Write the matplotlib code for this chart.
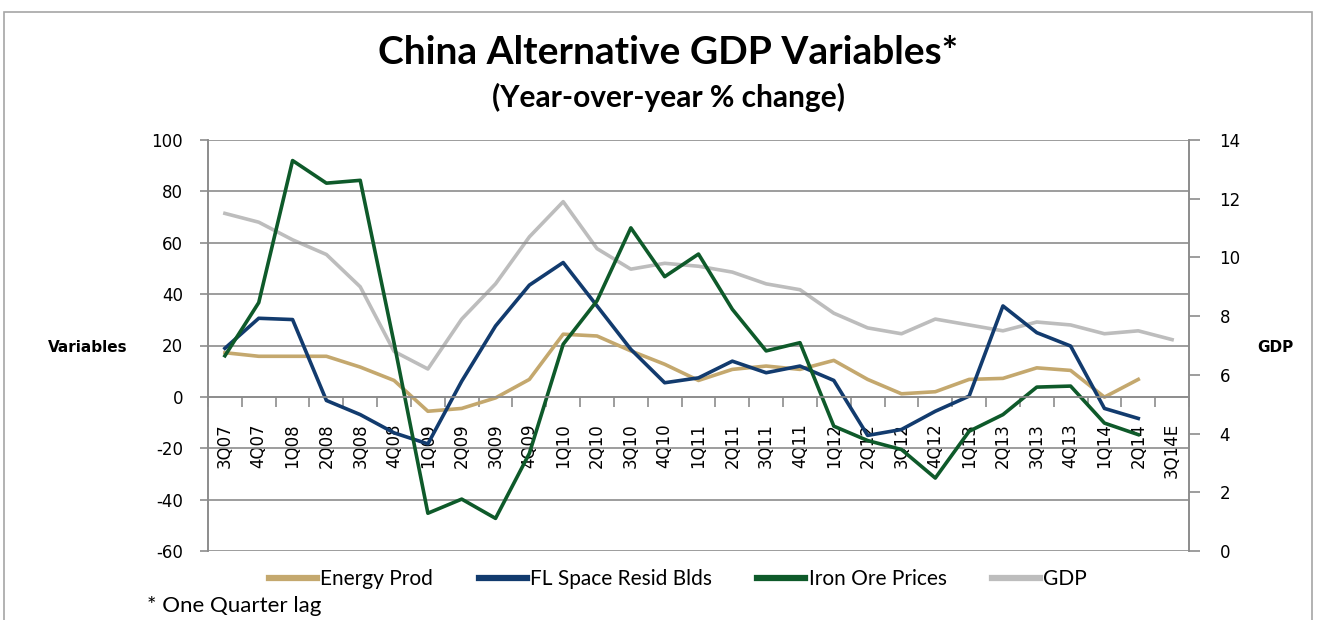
import numpy as np
import matplotlib
matplotlib.use("Agg")
import matplotlib.pyplot as plt
from matplotlib.patches import Rectangle

plt.rcParams["axes.unicode_minus"] = False

# categorias (trimestres)
quarters = ["3Q07", "4Q07", "1Q08", "2Q08", "3Q08", "4Q08", "1Q09", "2Q09", "3Q09", "4Q09",
            "1Q10", "2Q10", "3Q10", "4Q10", "1Q11", "2Q11", "3Q11", "4Q11", "1Q12", "2Q12",
            "3Q12", "4Q12", "1Q13", "2Q13", "3Q13", "4Q13", "1Q14", "2Q14", "3Q14E"]

energy_prod = [17.2, 15.8, 15.8, 15.8, 11.6, 6.4, -5.6, -4.5, -0.4, 6.8,
               24.4, 23.7, 17.9, 12.7, 6.4, 10.7, 12.0, 10.7, 14.2, 6.8,
               1.2, 2.0, 6.8, 7.2, 11.3, 10.3, -0.1, 6.8, np.nan]
fl_space = [18.9, 30.6, 30.1, -1.4, -6.9, -14.0, -18.3, 6.1, 27.6, 43.5,
            52.3, 35.4, 18.5, 5.5, 7.4, 13.9, 9.4, 12.0, 6.4, -15.0,
            -12.7, -5.6, 0.3, 35.4, 25.0, 19.8, -4.5, -8.4, np.nan]
iron_ore = [16.0, 36.7, 92.0, 83.2, 84.3, 21.0, -45.3, -39.8, -47.3, -22.0,
            20.5, 37.4, 65.8, 46.8, 55.6, 34.1, 17.9, 21.1, -11.4, -17.0,
            -20.5, -31.6, -13.4, -6.9, 3.8, 4.2, -10.2, -14.7, np.nan]
gdp = [11.5, 11.2, 10.6, 10.1, 9.0, 6.8, 6.2, 7.9, 9.1, 10.7,
       11.9, 10.3, 9.6, 9.8, 9.7, 9.5, 9.1, 8.9, 8.1, 7.6,
       7.4, 7.9, 7.7, 7.5, 7.8, 7.7, 7.4, 7.5, 7.2]

c_energy = "#C4A86E"
c_fl = "#123B6E"
c_iron = "#0E5A2A"
c_gdp = "#BDBDBD"
c_axis = "#8C8C8C"

W, H = 1320, 620
fig = plt.figure(figsize=(W / 100, H / 100), dpi=100)
fig.patches.append(Rectangle((4 / W, -0.1), (1312 - 4) / W, 1.1 - 12 / H,
                             transform=fig.transFigure, fill=False,
                             edgecolor="#A6A6A6", linewidth=1.2))

ax = fig.add_axes([208 / W, 1 - 551 / H, (1189 - 208) / W, (551 - 140) / H])
ax2 = ax.twinx()
ax.set_zorder(ax2.get_zorder() + 1)
ax.patch.set_visible(False)

x = np.arange(len(quarters))
lw = 2.6
ax2.plot(x, gdp, color=c_gdp, lw=lw, label="GDP")
ax.plot(x, energy_prod, color=c_energy, lw=lw, label="Energy Prod")
ax.plot(x, fl_space, color=c_fl, lw=lw, label="FL Space Resid Blds")
ax.plot(x, iron_ore, color=c_iron, lw=lw, label="Iron Ore Prices")

ax.set_xlim(-0.5, len(quarters) - 0.5)
ax.set_ylim(-60, 100)
ax.set_yticks(np.arange(-60, 101, 20))
ax.grid(axis="y", color=c_axis, lw=1.2)
ax.set_axisbelow(True)
ax2.set_ylim(0, 14)
ax2.set_yticks(np.arange(0, 15, 2))

# eje de categorias cruzando en 0
ax.spines["bottom"].set_position(("data", 0))
ax.set_xticks(x)
ax.set_xticklabels(quarters)
ax.set_xticks(np.arange(-0.5, len(quarters), 1), minor=True)
ax.tick_params(axis="x", which="major", length=0, pad=19, labelsize=12, labelrotation=90)
ax.tick_params(axis="x", which="minor", length=7, color=c_axis, width=1.2, direction="out")
ax.tick_params(axis="y", length=6, color=c_axis, width=1.2, labelsize=12, pad=12)
ax2.tick_params(axis="y", length=8, color=c_axis, width=1.2, labelsize=12, pad=14)

for a in (ax, ax2):
    for s in a.spines.values():
        s.set_color(c_axis)
        s.set_linewidth(1.2)
ax.spines["top"].set_visible(False)
ax2.spines["top"].set_visible(False)
ax2.spines["bottom"].set_visible(False)

fig.text(88 / W, 1 - 347 / H, "Variables", ha="center", va="center",
         fontsize=11, fontweight="bold")
fig.text(1275 / W, 1 - 347 / H, "GDP", ha="center", va="center",
         fontsize=11, fontweight="bold")

fig.text(668 / W, 1 - 52 / H, "China Alternative GDP Variables*", ha="center", va="center",
         fontsize=28, fontweight="bold", family="Lato")
fig.text(668 / W, 1 - 97 / H, "(Year-over-year % change)", ha="center", va="center",
         fontsize=21.5, fontweight="bold", family="Lato")
fig.text(147 / W, 1 - 606 / H, "* One Quarter lag", ha="left", va="center",
         fontsize=16, family="Lato")

h1, l1 = ax.get_legend_handles_labels()
h2, l2 = ax2.get_legend_handles_labels()
leg = fig.legend(h1 + h2, l1 + l2, loc="center", bbox_to_anchor=(678 / W, 1 - 579 / H),
                 ncol=4, frameon=False, handlelength=2.3, handletextpad=0.15,
                 columnspacing=2.2, prop={"family": "Lato", "size": 15})
for line in leg.get_lines():
    line.set_linewidth(4.5)

fig.savefig("out.png", dpi=100)
